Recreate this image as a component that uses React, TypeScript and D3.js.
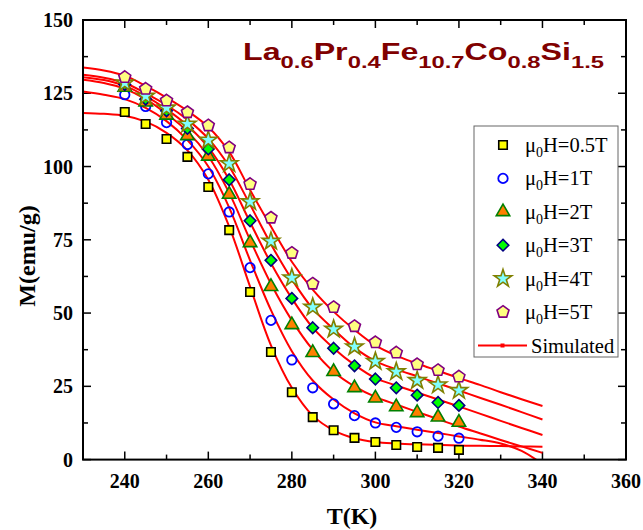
import React from 'react';
import * as d3 from 'd3';

// measured temperatures (K)
const temps = [240, 245, 250, 255, 260, 265, 270, 275, 280, 285, 290, 295, 300, 305, 310, 315, 320];
const m05 = [118.6, 114.5, 109.4, 103.3, 93, 78.3, 57.2, 36.7, 23, 14.5, 10, 7.4, 6, 5, 4.3, 4, 3.3];
const m1 = [124.5, 120.5, 115, 107.5, 97.5, 84.5, 65.5, 47.5, 34, 24.5, 19, 15, 12.5, 11, 9.5, 8, 7.3];
const m2 = [127, 122, 117.5, 110.5, 103.5, 90.5, 74, 59, 46, 36.5, 30, 24.5, 21, 18, 16, 14.5, 12.7];
const m3 = [128, 123, 119, 113, 106, 95.5, 81.5, 68, 55, 45, 38, 32, 27.5, 24.5, 22, 19.5, 18.5];
const m4 = [128.5, 124, 120, 114.5, 109, 101, 88, 74.5, 62, 52, 44.5, 38.5, 33.5, 30, 27, 25.5, 23.6];
const m5 = [130.5, 126.5, 122.5, 118.5, 114, 106.5, 94, 82.5, 70.5, 60, 52, 45.5, 40, 36.5, 32.5, 30.5, 28.3];

// simulated curves
const simT = [230, 235, 240, 245, 250, 255, 260, 265, 270, 275, 280, 285, 290, 295, 300, 305, 310, 315, 320, 325, 330, 335, 340];
const sim05 = [118.3, 118, 117.3, 115.3, 111.5, 105.5, 95.5, 79.5, 59, 39, 24.5, 15, 10, 7.3, 6, 5.5, 5.2, 5, 4.8, 4.7, 4.6, 4.5, 4.4];
const sim1 = [125.6, 124.5, 123, 120, 115.5, 109, 100, 86, 68, 51, 37, 27, 20.5, 15.8, 12.7, 11.4, 10.2, 9.1, 7.9, 6.8, 5.5, 3, -1.5];
const sim2 = [129.6, 128.5, 126.5, 123, 118, 112, 103.5, 91, 75, 60, 47.5, 37.5, 30, 25, 21.4, 18.8, 16.3, 13.8, 11.3, 9, 6.7, 4.5, 2.3];
const sim3 = [130.5, 129.5, 127.5, 124, 119.5, 114, 106.5, 95.5, 81, 67, 55, 45, 38, 32.3, 27.8, 25.3, 22.9, 20.5, 18.1, 15.7, 13.2, 10.8, 8.4];
const sim4 = [131.3, 130.3, 128.5, 125, 121, 116, 109.5, 100, 87, 73.5, 61.5, 51.5, 44.5, 38.2, 33.6, 30.8, 28.4, 26, 23.6, 21.1, 18.7, 16.2, 13.7];
const sim5 = [133.8, 132.8, 131, 127.5, 123.5, 119, 113.5, 105, 92, 79.5, 67.5, 58, 50.5, 44.3, 39, 35.5, 32.8, 30.3, 27.8, 25.5, 23, 20.6, 18.3];

const fieldLabels = ['0.5T', '1T', '2T', '3T', '4T', '5T'];
const xTicks = [240, 260, 280, 300, 320, 340, 360];
const yTicks = [0, 25, 50, 75, 100, 125, 150];

const W = 643;
const H = 530;
const left = 83, right = 626, top = 20, bottom = 459.6;

const serif = '"Liberation Serif", "Times New Roman", serif';
const sans = '"Liberation Sans", Arial, sans-serif';

const styles = [
  { kind: 'square', fill: '#FFFF00', stroke: '#000000' },
  { kind: 'circle', fill: 'none', stroke: '#0000FF' },
  { kind: 'triangle', fill: '#FF7F00', stroke: '#008000' },
  { kind: 'diamond', fill: '#00FF00', stroke: '#000080' },
  { kind: 'star', fill: '#80FFFF', stroke: '#808000' },
  { kind: 'pentagon', fill: '#FFFF80', stroke: '#800080' },
];

function pentagonPath(r: number) {
  const pts = d3.range(5).map(i => {
    const a = -Math.PI / 2 + (i * 2 * Math.PI) / 5;
    return [r * Math.cos(a), r * Math.sin(a)];
  });
  return 'M' + pts.map(p => p.join(',')).join('L') + 'Z';
}

function markerPath(kind: string) {
  switch (kind) {
    case 'square': return d3.symbol(d3.symbolSquare, 72)();
    case 'circle': return d3.symbol(d3.symbolCircle, 70)();
    case 'triangle': return d3.symbol(d3.symbolTriangle, 78)();
    case 'diamond': return d3.symbol(d3.symbolDiamond2, 85)();
    case 'star': return d3.symbol(d3.symbolStar, 95)();
    default: return pentagonPath(6.3);
  }
}

const Marker = ({ kind, fill, stroke, x, y }: any) => (
  <path d={markerPath(kind) as string} transform={`translate(${x},${y})`}
    fill={fill} stroke={stroke} strokeWidth={kind === 'circle' ? 1.8 : 1.6} />
);

export default function App() {
  const x = d3.scaleLinear().domain([230, 360]).range([left, right]);
  const y = d3.scaleLinear().domain([0, 150]).range([bottom, top]);

  const measured = [m05, m1, m2, m3, m4, m5];
  const simulated = [sim05, sim1, sim2, sim3, sim4, sim5];

  const line = d3.line<[number, number]>()
    .x(d => x(d[0]))
    .y(d => y(d[1]))
    .curve(d3.curveCatmullRom.alpha(0.5));

  const xMinor = d3.range(230, 361, 10);
  const yMinor = d3.range(0, 150.1, 12.5);

  const legendRows = fieldLabels.map((_, i) => 145 + i * 33.4);

  return (
    <svg width={W} height={H} style={{ position: 'absolute', left: 0, top: 0, background: '#fff' }}>
      <defs>
        <clipPath id="plot">
          <rect x={left} y={top} width={right - left} height={bottom - top} />
        </clipPath>
      </defs>

      {/* ticks, inward on all four sides */}
      <g stroke="#000" strokeWidth={1.5}>
        {xMinor.map(t => {
          const len = t % 20 === 0 ? 8 : 5;
          return (
            <g key={'xt' + t}>
              <line x1={x(t)} x2={x(t)} y1={bottom} y2={bottom - len} />
              <line x1={x(t)} x2={x(t)} y1={top} y2={top + len} />
            </g>
          );
        })}
        {yMinor.map(t => {
          const len = t % 25 === 0 ? 8 : 5;
          return (
            <g key={'yt' + t}>
              <line x1={left} x2={left + len} y1={y(t)} y2={y(t)} />
              <line x1={right} x2={right - len} y1={y(t)} y2={y(t)} />
            </g>
          );
        })}
      </g>

      {/* simulated curves */}
      <g clipPath="url(#plot)">
        {simulated.map((s, i) => (
          <path key={'sim' + i} d={line(simT.map((t, j) => [t, s[j]] as [number, number])) as string}
            fill="none" stroke="#FF0000" strokeWidth={2} />
        ))}
      </g>

      {/* measured points */}
      {measured.map((s, i) => (
        <g key={'m' + i}>
          {temps.map((t, j) => (
            <Marker key={j} {...styles[i]} x={x(t)} y={y(s[j])} />
          ))}
        </g>
      ))}

      <rect x={left} y={top} width={right - left} height={bottom - top} fill="none" stroke="#000" strokeWidth={2} />

      {/* tick labels */}
      <g fontFamily={serif} fontWeight="bold" fontSize={20} fill="#000">
        {xTicks.map(t => (
          <text key={'xl' + t} x={x(t)} y={488} textAnchor="middle">{t}</text>
        ))}
        {yTicks.map(t => (
          <text key={'yl' + t} x={73} y={y(t)} dy="0.35em" textAnchor="end">{t}</text>
        ))}
      </g>

      <text x={352} y={524} textAnchor="middle" fontFamily={serif} fontWeight="bold" fontSize={24}>T(K)</text>
      <text transform="translate(35,256) rotate(-90)" textAnchor="middle" fontFamily={serif} fontWeight="bold" fontSize={24}>M(emu/g)</text>

      {/* compound formula */}
      <g transform="translate(243,60) scale(1.4,1)">
        <text fontFamily={sans} fontWeight="bold" fill="#800000" fontSize={23}>
          La<tspan fontSize={17} dy={8}>0.6</tspan>
          <tspan dy={-8}>Pr</tspan><tspan fontSize={17} dy={8}>0.4</tspan>
          <tspan dy={-8}>Fe</tspan><tspan fontSize={17} dy={8}>10.7</tspan>
          <tspan dy={-8}>Co</tspan><tspan fontSize={17} dy={8}>0.8</tspan>
          <tspan dy={-8}>Si</tspan><tspan fontSize={17} dy={8}>1.5</tspan>
        </text>
      </g>

      {/* legend */}
      <rect x={474} y={126} width={144} height={231} fill="#fff" stroke="#666" strokeWidth={1} />
      {fieldLabels.map((f, i) => (
        <g key={'lg' + i}>
          <Marker {...styles[i]} x={503} y={legendRows[i]} />
          <text x={525} y={legendRows[i] + 7} fontFamily={serif} fontSize={20.5}>
            μ<tspan fontSize={14} dy={5}>0</tspan><tspan dy={-5}>H={f}</tspan>
          </text>
        </g>
      ))}
      <line x1={478} x2={527} y1={345.5} y2={345.5} stroke="#FF0000" strokeWidth={2} />
      <rect x={500.5} y={343.5} width={4} height={4} fill="#FF0000" />
      <text x={531} y={352.5} fontFamily={serif} fontSize={20.5}>Simulated</text>
    </svg>
  );
}
